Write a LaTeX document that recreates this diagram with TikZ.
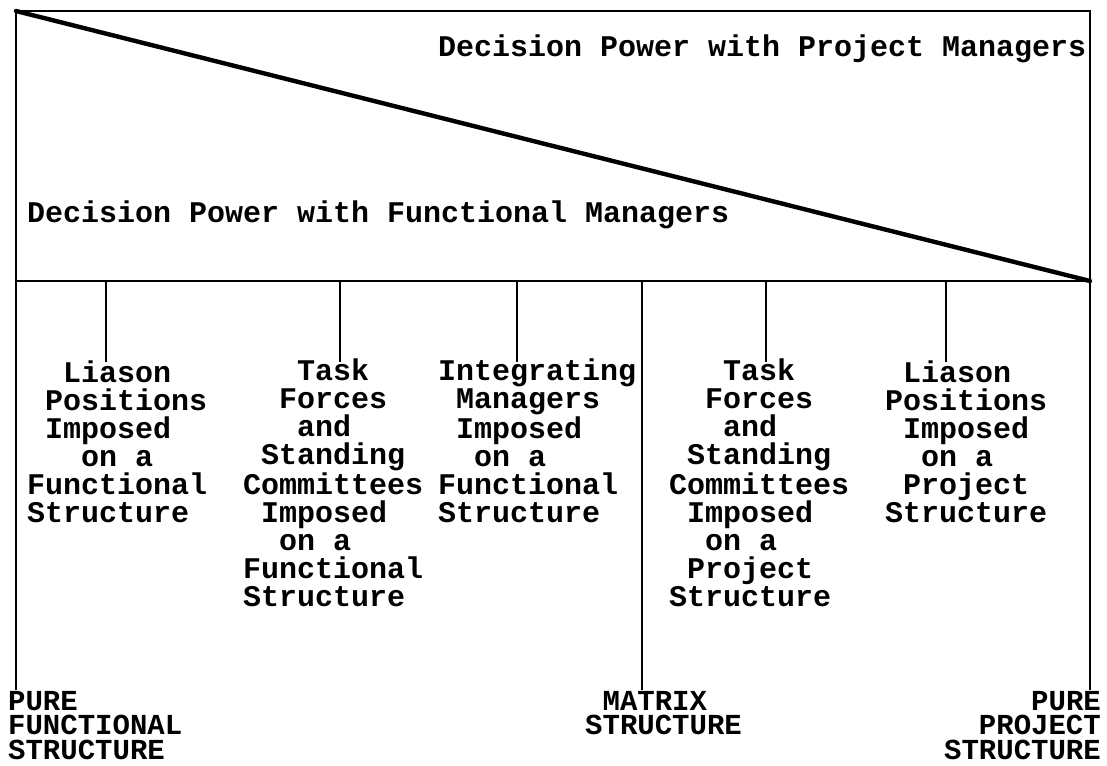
\documentclass[tikz,border=0pt]{standalone}
\usepackage{fontspec}
\newfontfamily\typewriter{Liberation Mono}
\tikzset{
  typed/.style={font=\typewriter\bfseries\fontsize{30}{28}\selectfont, inner sep=0pt, align=left, anchor=base west},
  caps/.style={typed, font=\typewriter\bfseries\fontsize{29}{24.5}\selectfont},
  frame/.style={line width=2.6pt},
  slope/.style={line width=4.4pt, line cap=round},
  tick/.style={line width=2pt}
}
\begin{document}
\begin{tikzpicture}[x=1pt, y=-1pt]
  \useasboundingbox (0,0) rectangle (1107,765);
  \coordinate (tl) at (16,11);
  \coordinate (tr) at (1090,11);
  \coordinate (ml) at (16,281);
  \coordinate (mr) at (1090,281);
  \coordinate (bl) at (16,690);
  \coordinate (br) at (1090,690);
  \coordinate (mx) at (642,281);
  \coordinate (mxb) at (642,690);

  \draw[frame] (bl) -- (tl) -- (tr) -- (br);
  \draw[frame] (ml) -- (mr);
  \draw[frame] (mx) -- (mxb);
  \draw[slope] (tl) -- (mr);

  \foreach \x/\n in {106/1, 340/2, 517/3, 766/4, 946/5} {
    \coordinate (up\n) at (\x,281);
    \coordinate (dn\n) at (\x,362);
    \draw[tick] (up\n) -- (dn\n);
  }

  \node[typed] (projpower) at (438,57) {Decision Power with Project Managers};
  \node[typed] (funcpower) at (27,222) {Decision Power with Functional Managers};

  \node[typed] (liasonfunc) at (27,522) {~~Liason\\~Positions\\~Imposed\\~~~on a\\Functional\\Structure};
  \node[typed] (taskfunc) at (243,606) {~~~Task\\~~Forces\\~~~and\\~Standing\\Committees\\~Imposed\\~~on a\\Functional\\Structure};
  \node[typed] (integrating) at (438,522) {Integrating\\~Managers\\~Imposed\\~~on a\\Functional\\Structure};
  \node[typed] (taskproj) at (669,606) {~~~Task\\~~Forces\\~~~and\\~Standing\\Committees\\~Imposed\\~~on a\\~Project\\Structure};
  \node[typed] (liasonproj) at (885,522) {~Liason\\Positions\\~Imposed\\~~on a\\~Project\\Structure};

  \node[caps] (purefunc) at (8,759) {PURE\\FUNCTIONAL\\STRUCTURE};
  \node[caps] (matrix) at (585,734.5) {~MATRIX\\STRUCTURE};
  \node[caps, align=right, anchor=base east] (pureproj) at (1101,759) {PURE\\PROJECT\\STRUCTURE};
\end{tikzpicture}
\end{document}
